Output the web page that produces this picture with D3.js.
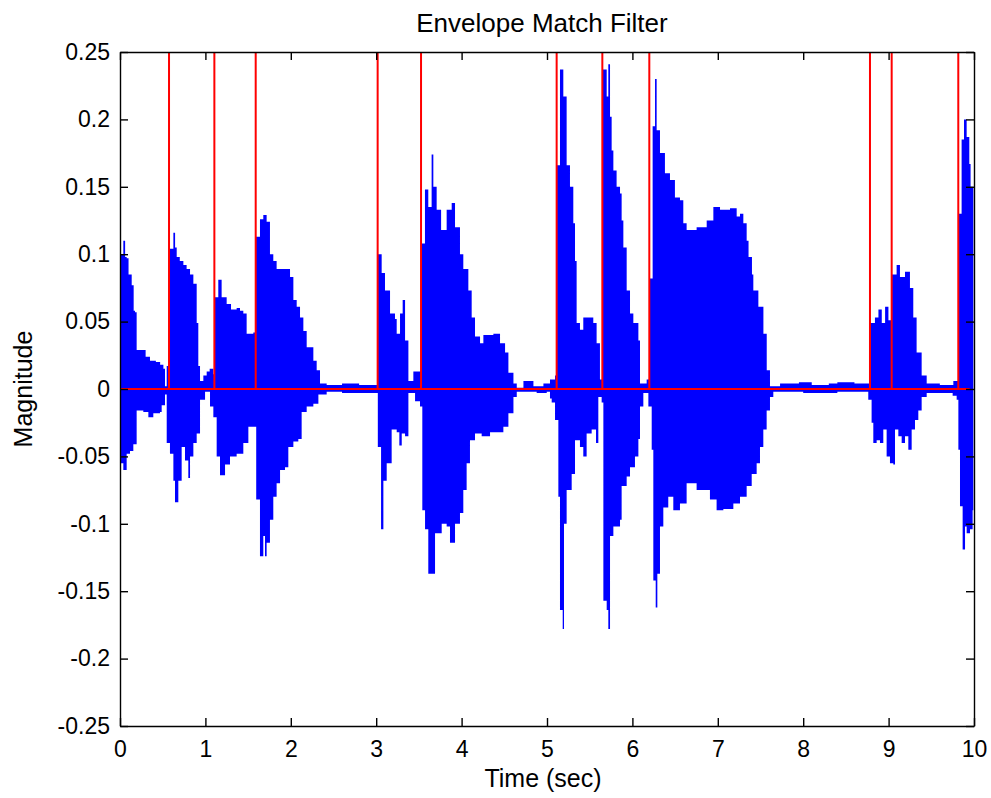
<!DOCTYPE html>
<html lang="en">
<head>
<meta charset="UTF-8">
<title>Envelope Match Filter</title>
<style>
  body { margin: 0; background: #fff; }
  svg text { font-family: "Liberation Sans", Arial, sans-serif; fill: #000; }
</style>
</head>
<body>
<div id="wrapper"></div>
<script src="https://d3js.org/d3.v7.min.js"></script>
<script>
// positive side of the waveform, [time (s), magnitude]
const upperEnvelope = [
  [0, 0.068], [0.01, 0.1], [0.039, 0.11], [0.06, 0.098], [0.078, 0.097], [0.1, 0.085], [0.137, 0.077],
  [0.16, 0.058], [0.176, 0.057], [0.195, 0.029], [0.273, 0.029], [0.3, 0.024], [0.351, 0.021],
  [0.42, 0.02], [0.47, 0.018], [0.508, 0.015], [0.527, 0.002], [0.547, 0.017],
  [0.576, 0.104], [0.625, 0.116], [0.645, 0.105], [0.664, 0.098], [0.7, 0.095], [0.742, 0.092],
  [0.78, 0.089], [0.82, 0.085], [0.859, 0.078], [0.898, 0.049], [0.917, 0.017], [0.937, 0.006],
  [0.976, 0.01], [1.015, 0.013], [1.05, 0.015], [1.093, 0.011],
  [1.107, 0.068], [1.151, 0.081], [1.19, 0.068], [1.249, 0.063], [1.3, 0.059], [1.366, 0.06],
  [1.405, 0.058], [1.444, 0.056], [1.483, 0.041], [1.561, 0.042],
  [1.591, 0.113], [1.639, 0.126], [1.678, 0.129], [1.717, 0.124], [1.756, 0.1], [1.795, 0.095],
  [1.834, 0.089], [1.913, 0.089], [1.991, 0.083], [2.03, 0.066], [2.069, 0.061], [2.108, 0.053],
  [2.147, 0.043], [2.186, 0.031], [2.264, 0.021], [2.303, 0.014], [2.342, 0.004], [2.42, 0.003],
  [2.6, 0.004], [2.8, 0.003], [2.967, 0.003],
  [3.019, 0.1], [3.064, 0.086], [3.103, 0.073], [3.162, 0.056], [3.22, 0.052], [3.24, 0.041],
  [3.279, 0.056], [3.31, 0.066], [3.338, 0.036], [3.377, 0.006], [3.435, 0.013], [3.494, 0.013],
  [3.527, 0.108], [3.571, 0.148], [3.61, 0.135], [3.649, 0.174], [3.669, 0.15], [3.708, 0.133],
  [3.76, 0.118], [3.825, 0.133], [3.884, 0.138], [3.923, 0.12], [3.981, 0.1], [4.02, 0.089],
  [4.079, 0.073], [4.118, 0.053], [4.157, 0.039], [4.216, 0.034], [4.255, 0.04], [4.372, 0.041],
  [4.45, 0.034], [4.509, 0.027], [4.548, 0.012], [4.607, 0.004], [4.646, 0.001], [4.724, 0.006],
  [4.841, 0.002], [4.958, 0.004], [5.035, 0.007], [5.094, 0.01],
  [5.115, 0.166], [5.152, 0.237], [5.191, 0.217], [5.23, 0.166], [5.269, 0.15], [5.308, 0.123],
  [5.328, 0.095], [5.347, 0.049], [5.386, 0.044], [5.425, 0.053], [5.503, 0.053], [5.542, 0.049],
  [5.581, 0.034], [5.62, 0.007],
  [5.65, 0.237], [5.699, 0.217], [5.718, 0.241], [5.738, 0.202], [5.757, 0.177], [5.777, 0.162],
  [5.815, 0.15], [5.855, 0.145], [5.874, 0.125], [5.894, 0.105], [5.933, 0.073], [5.972, 0.056],
  [6.011, 0.049], [6.07, 0.036], [6.089, 0.004], [6.167, 0.007],
  [6.2, 0.082], [6.237, 0.195], [6.265, 0.23], [6.284, 0.192], [6.323, 0.175], [6.381, 0.16],
  [6.44, 0.155], [6.498, 0.142], [6.557, 0.14], [6.596, 0.123], [6.635, 0.118], [6.752, 0.12],
  [6.83, 0.12], [6.87, 0.125], [6.948, 0.135], [7.026, 0.133], [7.143, 0.134], [7.221, 0.128],
  [7.26, 0.13], [7.299, 0.123], [7.338, 0.11], [7.36, 0.098], [7.4, 0.085], [7.416, 0.073],
  [7.475, 0.061], [7.534, 0.041], [7.573, 0.014], [7.611, 0.002], [7.729, 0.004], [7.95, 0.005],
  [8.1, 0.003], [8.3, 0.004], [8.4, 0.005], [8.6, 0.004], [8.744, 0.004],
  [8.784, 0.049], [8.84, 0.053], [8.881, 0.059], [8.92, 0.049], [8.959, 0.061], [8.998, 0.051],
  [9.038, 0.085], [9.094, 0.092], [9.133, 0.083], [9.192, 0.087], [9.25, 0.075], [9.289, 0.053],
  [9.328, 0.027], [9.387, 0.01], [9.446, 0.004], [9.6, 0.003], [9.758, 0.006],
  [9.818, 0.13], [9.855, 0.185], [9.883, 0.2], [9.914, 0.187], [9.945, 0.167], [9.96, 0.15],
  [9.992, 0.152]
];

// negative side of the waveform
const lowerEnvelope = [
  [0, -0.055], [0.039, -0.06], [0.078, -0.048], [0.117, -0.046], [0.156, -0.041], [0.195, -0.016],
  [0.273, -0.017], [0.332, -0.021], [0.39, -0.018], [0.468, -0.017], [0.488, -0.012], [0.527, -0.004],
  [0.547, -0.04], [0.585, -0.048], [0.625, -0.068], [0.644, -0.084], [0.683, -0.068], [0.722, -0.043],
  [0.761, -0.053], [0.8, -0.066], [0.82, -0.05], [0.859, -0.04], [0.898, -0.033], [0.937, -0.008],
  [0.996, -0.002], [1.054, -0.013], [1.093, -0.021], [1.132, -0.05], [1.171, -0.064], [1.23, -0.056],
  [1.288, -0.05], [1.366, -0.048], [1.444, -0.04], [1.503, -0.028], [1.561, -0.028],
  [1.595, -0.082], [1.639, -0.124], [1.678, -0.109], [1.698, -0.124], [1.717, -0.114], [1.756, -0.097],
  [1.795, -0.08], [1.834, -0.07], [1.874, -0.06], [1.932, -0.058], [1.971, -0.043], [2.03, -0.039],
  [2.088, -0.037], [2.127, -0.017], [2.186, -0.013], [2.264, -0.011], [2.323, -0.004], [2.42, -0.002],
  [2.6, -0.003], [2.8, -0.003], [2.97, -0.003],
  [3.019, -0.043], [3.057, -0.104], [3.084, -0.068], [3.123, -0.055], [3.181, -0.03], [3.24, -0.032],
  [3.271, -0.042], [3.299, -0.033], [3.338, -0.035], [3.377, -0.003], [3.455, -0.009], [3.513, -0.013],
  [3.54, -0.09], [3.572, -0.104], [3.61, -0.137], [3.649, -0.137], [3.689, -0.107], [3.767, -0.1],
  [3.825, -0.102], [3.864, -0.114], [3.923, -0.1], [3.981, -0.092], [4.02, -0.075], [4.059, -0.055],
  [4.098, -0.038], [4.157, -0.033], [4.235, -0.035], [4.333, -0.032], [4.411, -0.032], [4.489, -0.028],
  [4.548, -0.018], [4.607, -0.006], [4.646, -0.002], [4.879, -0.003], [4.997, -0.002], [5.035, -0.007],
  [5.055, -0.01], [5.094, -0.023],
  [5.133, -0.08], [5.152, -0.164], [5.184, -0.178], [5.199, -0.1], [5.23, -0.075], [5.289, -0.063],
  [5.328, -0.038], [5.386, -0.043], [5.425, -0.05], [5.464, -0.033], [5.523, -0.03], [5.574, -0.04],
  [5.601, -0.006], [5.64, -0.01],
  [5.66, -0.157], [5.699, -0.164], [5.718, -0.178], [5.738, -0.109], [5.777, -0.102], [5.855, -0.097],
  [5.874, -0.072], [5.933, -0.065], [5.972, -0.058], [6.03, -0.05], [6.07, -0.037], [6.089, -0.013],
  [6.128, -0.003], [6.187, -0.013],
  [6.226, -0.045], [6.245, -0.142], [6.273, -0.162], [6.292, -0.137], [6.323, -0.102], [6.362, -0.088],
  [6.42, -0.08], [6.479, -0.09], [6.557, -0.085], [6.635, -0.07], [6.752, -0.075], [6.83, -0.075],
  [6.908, -0.082], [6.986, -0.09], [7.065, -0.089], [7.182, -0.085], [7.26, -0.08], [7.338, -0.072],
  [7.397, -0.063], [7.455, -0.055], [7.494, -0.043], [7.533, -0.03], [7.572, -0.016], [7.611, -0.006],
  [7.65, -0.002], [8.0, -0.003], [8.4, -0.002], [8.762, -0.008],
  [8.801, -0.025], [8.821, -0.04], [8.86, -0.038], [8.899, -0.04], [8.938, -0.03], [8.977, -0.05],
  [9.016, -0.055], [9.055, -0.056], [9.075, -0.03], [9.114, -0.035], [9.153, -0.04], [9.192, -0.035],
  [9.231, -0.045], [9.27, -0.03], [9.309, -0.023], [9.348, -0.016], [9.387, -0.006], [9.446, -0.003],
  [9.68, -0.003], [9.75, -0.005], [9.797, -0.008],
  [9.817, -0.045], [9.836, -0.087], [9.867, -0.119], [9.895, -0.102], [9.914, -0.107], [9.953, -0.104],
  [9.984, -0.09], [9.992, -0.09]
];

// detected onsets (red markers)
const onsetTimes = [0.574, 1.105, 1.589, 3.017, 3.525, 5.113, 5.648, 6.198, 8.782, 9.036, 9.816];
const onsetHeight = 0.25;
const baselineEnd = 9.95;

const xTicks = d3.range(0, 11, 1);
const yTicks = [-0.25, -0.2, -0.15, -0.1, -0.05, 0, 0.05, 0.1, 0.15, 0.2, 0.25];

const dimensions = {
  width: 991,
  height: 798,
  margin: { top: 52, right: 17, bottom: 72, left: 120 }
};
dimensions.boundedWidth = dimensions.width - dimensions.margin.left - dimensions.margin.right;
dimensions.boundedHeight = dimensions.height - dimensions.margin.top - dimensions.margin.bottom;

const svg = d3.select("#wrapper").append("svg")
  .attr("width", dimensions.width)
  .attr("height", dimensions.height);

const bounds = svg.append("g")
  .attr("transform", `translate(${dimensions.margin.left},${dimensions.margin.top})`);

const xScale = d3.scaleLinear().domain([0, 10]).range([0, dimensions.boundedWidth]);
const yScale = d3.scaleLinear().domain([-0.25, 0.25]).range([dimensions.boundedHeight, 0]);

// waveform, filled from zero out to each envelope
const envArea = d3.area()
  .x(d => xScale(d[0]))
  .y0(yScale(0))
  .y1(d => yScale(d[1]))
  .curve(d3.curveStepAfter);

bounds.append("path").attr("d", envArea(upperEnvelope)).attr("fill", "#0000ff");
bounds.append("path").attr("d", envArea(lowerEnvelope)).attr("fill", "#0000ff");

// red markers
bounds.append("line")
  .attr("x1", xScale(0)).attr("x2", xScale(baselineEnd))
  .attr("y1", yScale(0)).attr("y2", yScale(0))
  .attr("stroke", "#ff0000").attr("stroke-width", 2);

bounds.append("g").selectAll("line")
  .data(onsetTimes)
  .join("line")
  .attr("x1", d => xScale(d)).attr("x2", d => xScale(d))
  .attr("y1", yScale(0)).attr("y2", yScale(onsetHeight))
  .attr("stroke", "#ff0000").attr("stroke-width", 2);

// axes (matlab style: inward ticks, full box)
const yFmt = d => String(+d.toFixed(2));
const tick = 8;

const xAxis = bounds.append("g")
  .attr("transform", `translate(0,${dimensions.boundedHeight})`)
  .call(d3.axisBottom(xScale).tickValues(xTicks).tickSizeInner(-tick).tickSizeOuter(0).tickPadding(15));
const xAxisTop = bounds.append("g")
  .call(d3.axisTop(xScale).tickValues(xTicks).tickSizeInner(-tick).tickSizeOuter(0).tickFormat(""));
const yAxis = bounds.append("g")
  .call(d3.axisLeft(yScale).tickValues(yTicks).tickSizeInner(-tick).tickSizeOuter(0).tickPadding(10).tickFormat(yFmt));
const yAxisRight = bounds.append("g")
  .attr("transform", `translate(${dimensions.boundedWidth},0)`)
  .call(d3.axisRight(yScale).tickValues(yTicks).tickSizeInner(-tick).tickSizeOuter(0).tickFormat(""));

[xAxis, xAxisTop, yAxis, yAxisRight].forEach(a => {
  a.selectAll("path.domain").attr("stroke", "#000").attr("stroke-width", 1.4);
  a.selectAll(".tick line").attr("stroke", "#000").attr("stroke-width", 1.4);
  a.selectAll(".tick text").attr("font-size", 23).attr("font-family", null);
  a.attr("font-family", null);
});

// title and axis labels
svg.append("text")
  .attr("x", dimensions.margin.left + dimensions.boundedWidth / 2 - 5)
  .attr("y", 32)
  .attr("text-anchor", "middle")
  .attr("font-size", 26)
  .text("Envelope Match Filter");

svg.append("text")
  .attr("x", dimensions.margin.left + dimensions.boundedWidth / 2 - 4)
  .attr("y", 787)
  .attr("text-anchor", "middle")
  .attr("font-size", 25)
  .text("Time (sec)");

svg.append("text")
  .attr("transform", `translate(32,${dimensions.margin.top + dimensions.boundedHeight / 2}) rotate(-90)`)
  .attr("text-anchor", "middle")
  .attr("font-size", 25)
  .text("Magnitude");
</script>
</body>
</html>
